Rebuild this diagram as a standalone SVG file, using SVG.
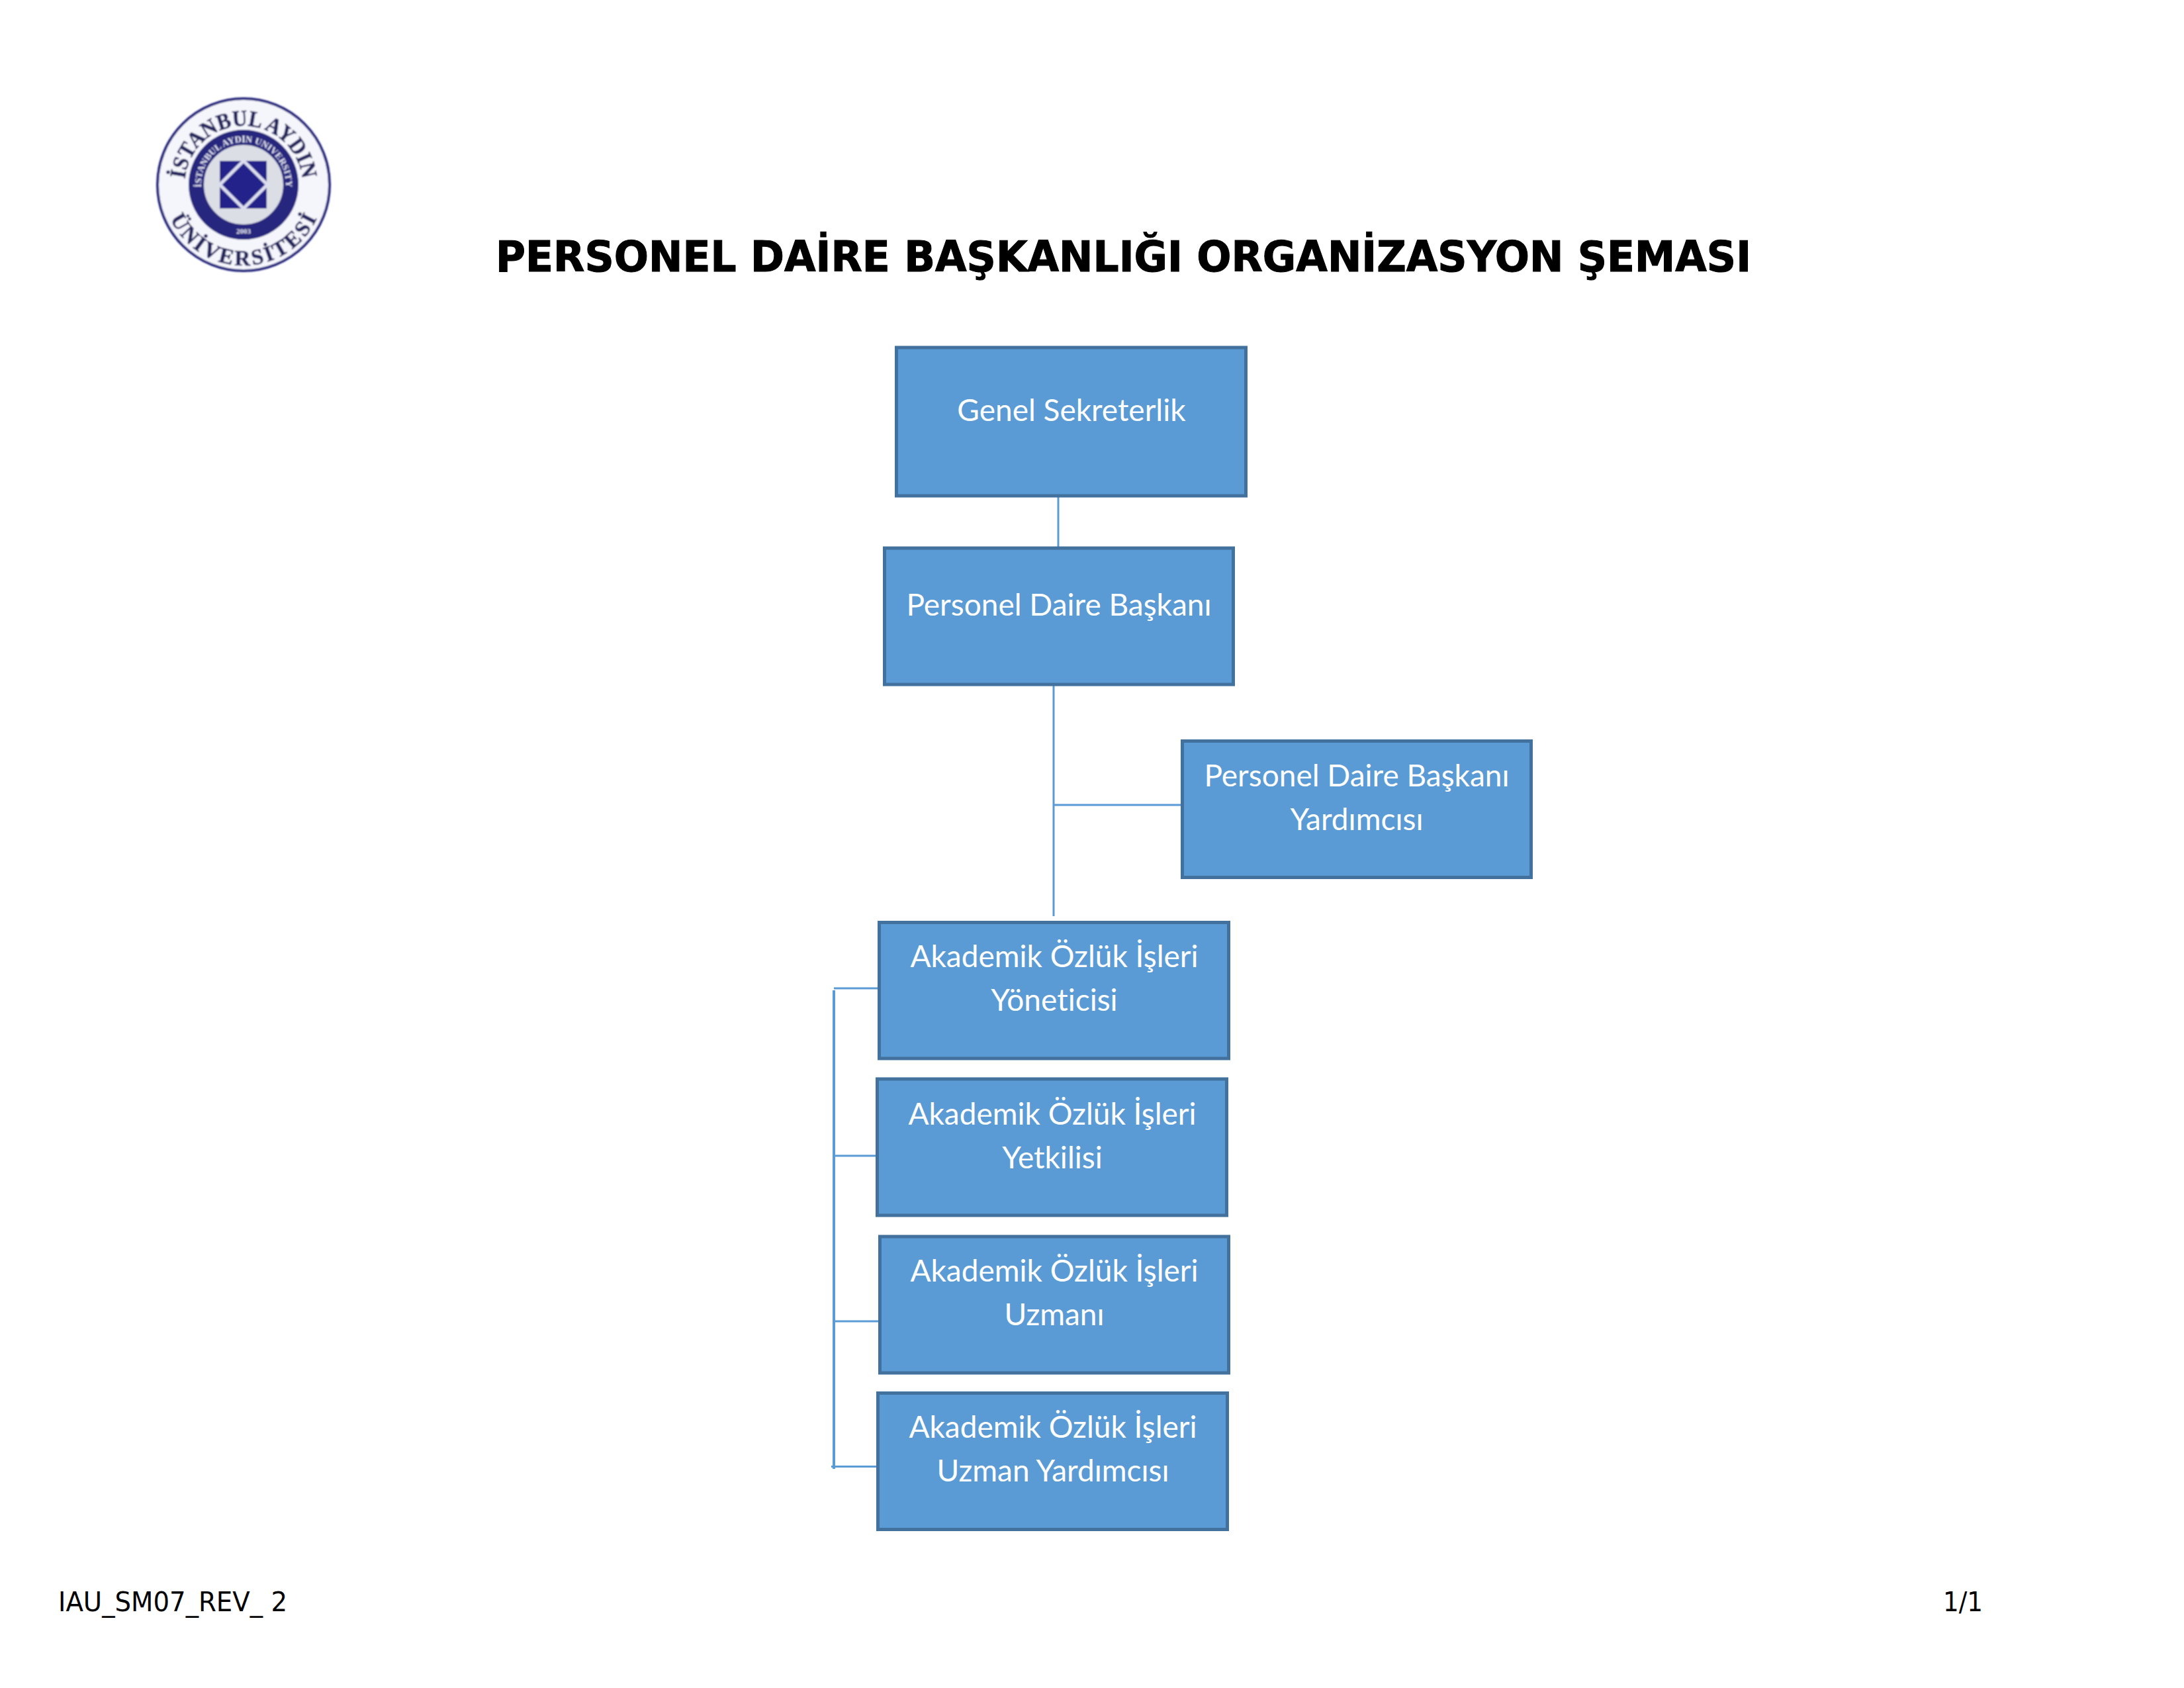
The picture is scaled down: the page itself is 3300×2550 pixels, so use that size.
<svg xmlns="http://www.w3.org/2000/svg" width="3300" height="2550" viewBox="0 0 3300 2550">
<style>
.box{fill:#5B9BD5;stroke:#41719C;stroke-width:5}
.lbl{font-family:"Lato","Open Sans",sans-serif;font-size:46px;fill:#fff;text-anchor:middle;font-variant-ligatures:none}
.con{stroke:#5B9BD5;stroke-width:3;fill:none}
.ft{font-family:"DejaVu Sans","Noto Sans",sans-serif;font-size:40px;fill:#000}
.lg{font-family:"Liberation Serif",serif;font-weight:bold;fill:#272660;stroke:#272660;stroke-width:.7}
.lw{font-family:"Liberation Serif",serif;font-weight:bold;fill:#E8E9F5}
</style>
<defs>
<filter id="soft" x="-5%" y="-5%" width="110%" height="110%"><feGaussianBlur stdDeviation="1.1"/></filter>
<path id="outerTop" d="M279 279A89 89 0 0 1 457 279"/>
<path id="outerBot" d="M246 279A122 122 0 0 0 490 279"/>
<path id="innerTop" d="M308 301A64 64 0 1 1 428 301"/>
</defs>
<rect width="3300" height="2550" fill="#fff"/>
<g id="logo" filter="url(#soft)">
<circle cx="368" cy="279" r="130" fill="#F5F6FC" stroke="#26257E" stroke-width="4"/>
<text class="lg" font-size="34" text-anchor="middle" textLength="262" lengthAdjust="spacingAndGlyphs"><textPath href="#outerTop" startOffset="50%">İSTANBUL AYDIN</textPath></text>
<text class="lg" font-size="33" text-anchor="middle" textLength="278" lengthAdjust="spacing"><textPath href="#outerBot" startOffset="50%">ÜNİVERSİTESİ</textPath></text>
<circle cx="368" cy="279" r="71.500" fill="#DCDEE6" stroke="#26257E" stroke-width="23"/>
<text class="lw" font-size="14" text-anchor="middle"><textPath href="#innerTop" startOffset="50%">İSTANBUL AYDIN UNIVERSITY</textPath></text>
<text class="lw" font-size="11" x="368" y="353" text-anchor="middle">2003</text>
<rect x="332" y="243" width="71" height="72" fill="#24238A"/>
<path d="M368 243L404 279L368 315L332 279Z" fill="#24238A" stroke="#DCDEF0" stroke-width="5"/>
</g>
<g id="title"><text x="749" y="410" font-family="'DejaVu Sans Condensed','Noto Sans',sans-serif" font-weight="bold" font-size="64" stroke="#000" stroke-width="1" textLength="1897" lengthAdjust="spacingAndGlyphs">PERSONEL DAİRE BAŞKANLIĞI ORGANİZASYON ŞEMASI</text></g>
<g id="connectors">
<path class="con" d="M1599 751V826"/>
<path class="con" d="M1592 1036V1384"/>
<path class="con" d="M1592 1216H1786"/>
<path class="con" style="stroke-width:4" d="M1260 1496V2219"/>
<path class="con" d="M1260 1493H1331M1262 1746H1327M1262 1996H1331M1256 2215.500H1328"/>
</g>
<g id="n1"><rect class="box" x="1354.500" y="525" width="528" height="224"/><text class="lbl" x="1619" y="636">Genel Sekreterlik</text></g>
<g id="n2"><rect class="box" x="1336.500" y="828" width="527" height="206"/><text class="lbl" x="1600" y="930">Personel Daire Başkanı</text></g>
<g id="n3"><rect class="box" x="1786.500" y="1119.500" width="527" height="206"/><text class="lbl" x="2050" y="1188">Personel Daire Başkanı</text><text class="lbl" x="2050" y="1254">Yardımcısı</text></g>
<g id="n4"><rect class="box" x="1328.500" y="1393.500" width="528" height="205.500"/><text class="lbl" x="1593" y="1461">Akademik Özlük İşleri</text><text class="lbl" x="1593" y="1527">Yöneticisi</text></g>
<g id="n5"><rect class="box" x="1325.500" y="1630" width="528" height="206"/><text class="lbl" x="1590" y="1699">Akademik Özlük İşleri</text><text class="lbl" x="1590" y="1765">Yetkilisi</text></g>
<g id="n6"><rect class="box" x="1329.500" y="1868" width="527" height="206"/><text class="lbl" x="1593" y="1936">Akademik Özlük İşleri</text><text class="lbl" x="1593" y="2002">Uzmanı</text></g>
<g id="n7"><rect class="box" x="1326.500" y="2104.500" width="528" height="206"/><text class="lbl" x="1591" y="2172">Akademik Özlük İşleri</text><text class="lbl" x="1591" y="2238">Uzman Yardımcısı</text></g>
<g id="footer"><text class="ft" x="88" y="2434" textLength="346" lengthAdjust="spacingAndGlyphs">IAU_SM07_REV_ 2</text><text class="ft" x="2936" y="2434" textLength="60" lengthAdjust="spacingAndGlyphs">1/1</text></g>
</svg>
